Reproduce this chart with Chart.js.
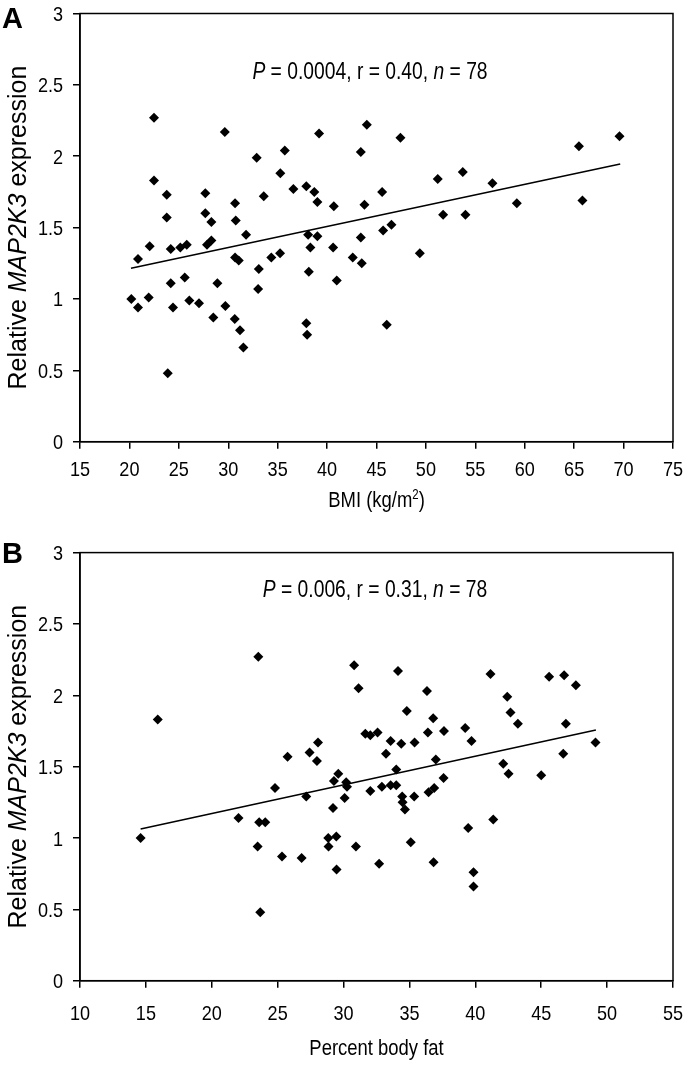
<!DOCTYPE html>
<html lang="en">
<head>
  <meta charset="UTF-8" />
  <title>MAP2K3 expression vs BMI and body fat</title>
  <script src="https://cdn.jsdelivr.net/npm/chart.js"></script>
  <style>
    body { margin: 0; background: #fff; }
    .panel { position: absolute; left: 0; width: 686px; }
    #panelA { top: 0; height: 540px; }
    #panelB { top: 540px; height: 527px; }
  </style>
</head>
<body>

  <div class="panel" id="panelA"><canvas id="chartA" width="686" height="540"></canvas></div>
  <div class="panel" id="panelB"><canvas id="chartB" width="686" height="527"></canvas></div>

  <script>
    // Panel A: BMI vs relative MAP2K3 expression
    const bmi = [22.49, 29.65, 39.19, 44.02, 43.41, 32.88, 35.72, 35.27, 22.49, 23.78,
      27.68, 33.59, 36.59, 37.90, 38.71, 39.02, 40.68, 43.78, 30.69, 23.78,
      27.68, 28.29, 30.76, 31.80, 38.08, 39.02, 43.41, 22.05, 24.18, 25.15,
      25.80, 27.85, 28.29, 38.31, 40.61, 20.87, 30.69, 31.06, 34.36, 35.24,
      42.60, 43.51, 33.09, 38.15, 24.18, 25.60, 28.90, 40.98, 33.02, 20.19,
      20.87, 21.95, 24.41, 26.06, 27.04, 29.71, 28.49, 30.66, 31.19, 31.53,
      37.90, 37.98, 23.88, 45.57, 47.42, 45.67, 46.51, 49.38, 46.04, 51.20,
      53.73, 51.74, 54.00, 56.73, 59.20, 65.48, 65.84, 69.59];
    const mapA = [2.27, 2.17, 2.16, 2.22, 2.03, 1.99, 2.04, 1.88, 1.83, 1.73,
      1.74, 1.72, 1.77, 1.79, 1.75, 1.68, 1.65, 1.66, 1.67, 1.57,
      1.60, 1.54, 1.55, 1.45, 1.45, 1.44, 1.43, 1.37, 1.35, 1.36,
      1.38, 1.38, 1.41, 1.36, 1.36, 1.28, 1.29, 1.27, 1.29, 1.32,
      1.29, 1.25, 1.21, 1.19, 1.11, 1.15, 1.11, 1.13, 1.07, 1.00,
      0.94, 1.01, 0.94, 0.99, 0.97, 0.95, 0.87, 0.86, 0.78, 0.66,
      0.83, 0.75, 0.48, 1.75, 2.13, 1.48, 1.52, 1.32, 0.82, 1.84,
      1.89, 1.59, 1.59, 1.81, 1.67, 2.07, 1.69, 2.14];
    const trendBmi = [20.16, 69.66];
    const trendA = [1.215, 1.946];

    // Panel B: percent body fat vs relative MAP2K3 expression
    const fatPct = [23.53, 15.9, 30.8, 31.14, 31.65, 32.03, 32.58, 28.06, 27.42, 27.98,
      25.75, 24.8, 27.17, 29.6, 29.27, 30.2, 30.26, 32.03, 30.08, 29.2,
      22.03, 23.6, 24.06, 14.6, 34.13, 36.33, 41.15, 45.6, 46.74, 47.63,
      42.42, 42.67, 43.23, 34.8, 36.8, 33.57, 34.38, 35.39, 36.4, 37.62,
      39.23, 39.71, 46.87, 49.12, 46.67, 33.22, 37.0, 34.0, 42.12, 42.52,
      45.0, 37.59, 32.91, 33.57, 34.0, 34.45, 35.36, 36.45, 36.88, 34.48,
      34.66, 39.46, 41.36, 35.1, 23.48, 23.68, 25.33, 26.82, 28.84, 29.45,
      28.86, 29.47, 30.94, 32.7, 36.83, 39.86, 39.86];
    const mapB = [2.27, 1.83, 2.21, 2.05, 1.73, 1.72, 1.74, 1.67, 1.60, 1.54,
      1.57, 1.35, 1.29, 1.45, 1.40, 1.39, 1.36, 1.33, 1.28, 1.21,
      1.14, 1.11, 1.11, 1.00, 2.17, 2.03, 2.15, 2.13, 2.14, 2.07,
      1.99, 1.88, 1.80, 1.89, 1.84, 1.68, 1.66, 1.67, 1.74, 1.75,
      1.77, 1.68, 1.80, 1.67, 1.59, 1.59, 1.55, 1.48, 1.52, 1.45,
      1.44, 1.42, 1.36, 1.37, 1.37, 1.29, 1.29, 1.32, 1.35, 1.25,
      1.20, 1.07, 1.13, 0.97, 0.94, 0.48, 0.87, 0.86, 1.00, 1.01,
      0.94, 0.78, 0.94, 0.82, 0.83, 0.76, 0.66];
    const trendFat = [14.6, 49.15];
    const trendB = [1.063, 1.757];

    const bmiTicks = [15, 20, 25, 30, 35, 40, 45, 50, 55, 60, 65, 70, 75];
    const fatTicks = [10, 15, 20, 25, 30, 35, 40, 45, 50, 55];
    const yTicks = [0, 0.5, 1, 1.5, 2, 2.5, 3];

    const SANS = "'Liberation Sans', Arial, sans-serif";
    const NARROW_X = 0.82;   // squeeze Liberation Sans to look like Arial Narrow

    // text made of pieces {t, it, sup}; align = 'left' | 'center' | 'right'
    function drawText(ctx, parts, x, y, size, sx, align) {
      const fontOf = p => (p.it ? 'italic ' : '') + (p.sup ? size * 0.62 : size) + 'px ' + SANS;
      const widths = parts.map(p => { ctx.font = fontOf(p); return ctx.measureText(p.t).width * sx; });
      const total = widths.reduce((a, b) => a + b, 0);
      let cx = align === 'center' ? x - total / 2 : align === 'right' ? x - total : x;
      ctx.textAlign = 'left';
      ctx.textBaseline = 'alphabetic';
      parts.forEach((p, i) => {
        ctx.save();
        ctx.font = fontOf(p);
        ctx.translate(cx, y - (p.sup ? size * 0.36 : 0));
        ctx.scale(sx, 1);
        ctx.fillText(p.t, 0, 0);
        ctx.restore();
        cx += widths[i];
      });
    }

    const extras = {
      id: 'extras',
      afterDraw(chart, args, o) {
        const { ctx, chartArea: a, scales } = chart;
        ctx.save();
        ctx.strokeStyle = '#000';
        ctx.lineWidth = 1.5;
        ctx.strokeRect(a.left, a.top, a.right - a.left, a.bottom - a.top);
        ctx.fillStyle = '#000';

        // tick labels
        o.xTicks.forEach(v => {
          drawText(ctx, [{ t: String(v) }], scales.x.getPixelForValue(v), o.xTickY, 21, 0.86, 'center');
        });
        yTicks.forEach(v => {
          drawText(ctx, [{ t: String(v) }], 63, scales.y.getPixelForValue(v) + 7.5, 21, 0.86, 'right');
        });

        // x axis title
        drawText(ctx, o.xTitle, (a.left + a.right) / 2, o.xTitleY, 22.5, NARROW_X, 'center');

        // statistics line
        drawText(ctx, o.stats, o.statsX, o.statsY, 23.5, NARROW_X, 'center');

        // panel letter
        ctx.font = 'bold 29px ' + SANS;
        ctx.textAlign = 'left';
        ctx.fillText(o.letter, 2, o.letterY);

        // y axis title
        ctx.translate(26, (a.top + a.bottom) / 2);
        ctx.rotate(-Math.PI / 2);
        drawText(ctx, [{ t: 'Relative ' }, { t: 'MAP2K3', it: true }, { t: ' expression' }], 0, 0, 25, 1, 'center');
        ctx.restore();
      }
    };

    function makeChart(id, xs, ys, tx, ty, xTicks, s) {
      const pts = xs.map((x, i) => ({ x: x, y: ys[i] }));
      const line = tx.map((x, i) => ({ x: x, y: ty[i] }));
      const axisGrid = { drawOnChartArea: false, drawTicks: true, tickLength: 7, color: '#000', tickColor: '#000', lineWidth: 1.5 };
      s.xTicks = xTicks;

      return new Chart(document.getElementById(id), {
        type: 'scatter',
        data: {
          datasets: [
            {
              data: pts,
              pointStyle: 'rectRot',
              pointRadius: 5,
              backgroundColor: '#000',
              borderColor: '#000',
              borderWidth: 0
            },
            {
              type: 'line',
              data: line,
              borderColor: '#000',
              borderWidth: 1.6,
              pointRadius: 0,
              fill: false,
              tension: 0
            }
          ]
        },
        options: {
          responsive: false,
          animation: false,
          layout: { padding: { top: s.top, right: 13, left: 0, bottom: 0 } },
          plugins: {
            legend: { display: false },
            tooltip: { enabled: false },
            extras: s
          },
          scales: {
            x: {
              type: 'linear',
              min: xTicks[0],
              max: xTicks[xTicks.length - 1],
              afterBuildTicks: sc => { sc.ticks = xTicks.map(v => ({ value: v })); },
              afterFit: sc => { sc.height = s.xHeight; },
              border: { display: true, color: '#000', width: 1.5 },
              grid: axisGrid,
              ticks: { display: false }
            },
            y: {
              min: 0,
              max: 3,
              afterBuildTicks: sc => { sc.ticks = yTicks.map(v => ({ value: v })); },
              afterFit: sc => { sc.width = 80; },
              border: { display: true, color: '#000', width: 1.5 },
              grid: axisGrid,
              ticks: { display: false }
            }
          }
        },
        plugins: [extras]
      });
    }

    makeChart('chartA', bmi, mapA, trendBmi, trendA, bmiTicks, {
      top: 13.5, xHeight: 98.3,
      xTickY: 476, xTitleY: 507,
      xTitle: [{ t: 'BMI (kg/m' }, { t: '2', sup: true }, { t: ')' }],
      letter: 'A', letterY: 28,
      stats: [{ t: 'P', it: true }, { t: ' = 0.0004, r = 0.40, ' }, { t: 'n', it: true }, { t: ' = 78' }],
      statsX: 370, statsY: 79
    });

    makeChart('chartB', fatPct, mapB, trendFat, trendB, fatTicks, {
      top: 12.6, xHeight: 86.3,
      xTickY: 480, xTitleY: 515,
      xTitle: [{ t: 'Percent body fat' }],
      letter: 'B', letterY: 23,
      stats: [{ t: 'P', it: true }, { t: ' = 0.006, r = 0.31, ' }, { t: 'n', it: true }, { t: ' = 78' }],
      statsX: 375, statsY: 57
    });
  </script>

</body>
</html>
